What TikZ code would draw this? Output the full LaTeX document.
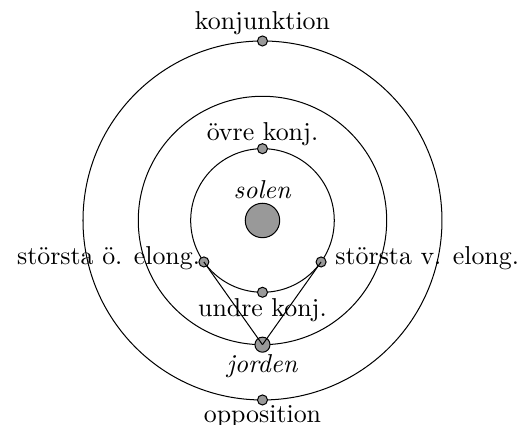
\documentclass[tikz,border=0pt]{standalone}
\usepackage{tikz}
\usetikzlibrary{calc,positioning}

\begin{document}
\begin{tikzpicture}[scale=1.0,
    font=\fontsize{10.25}{12.3}\selectfont,
    dot/.style={circle,draw,fill=black!40,inner sep=0pt,minimum size=1.4mm},
    lbl/.style={inner sep=0pt}
]
\useasboundingbox (-3.656,-2.848) rectangle (3.559,3.071);

% orbits
\foreach \r in {1,1.73,2.5}
{
    \draw (0,0) circle (\r);
}

% sun
\node[circle,draw,fill=black!40,inner sep=0pt,minimum size=4.8mm] (solen) at (0,0) {};
\node[lbl,above=0.5mm of solen] (solentxt) {\textit{solen}};

% inner planet
\node[dot] (ovre) at (90:1) {};
\node[dot] (undre) at (270:1) {};
\node[dot] (ost) at (215.3:1) {};
\node[dot] (vast) at (324.7:1) {};

% outer planet
\node[dot] (konj) at (90:2.5) {};
\node[dot] (opp) at (270:2.5) {};

% earth and lines of sight
\node[circle,draw,fill=black!40,inner sep=0pt,minimum size=2.1mm] (jorden) at (270:1.73) {};
\draw (jorden.center) -- (ost.center);
\draw (jorden.center) -- (vast.center);

% labels
\node[lbl,above=0pt of konj] (konjtxt) {konjunktion};
\node[lbl,above=-0.4mm of ovre] (ovretxt) {övre konj.};
\node[lbl,below=0pt of undre] (undretxt) {undre konj.};
\node[lbl,below=0.2mm of jorden] (jordentxt) {\textit{jorden}};
\node[lbl,below=0pt of opp] (opptxt) {opposition};
\node[lbl,anchor=base east] (osttxt) at ($(ost.west)+(0.3mm,-1pt)$) {största ö. elong.};
\node[lbl,anchor=base west] (vasttxt) at ($(vast.east)+(3.3pt,-1pt)$) {största v. elong.};

\end{tikzpicture}
\end{document}
